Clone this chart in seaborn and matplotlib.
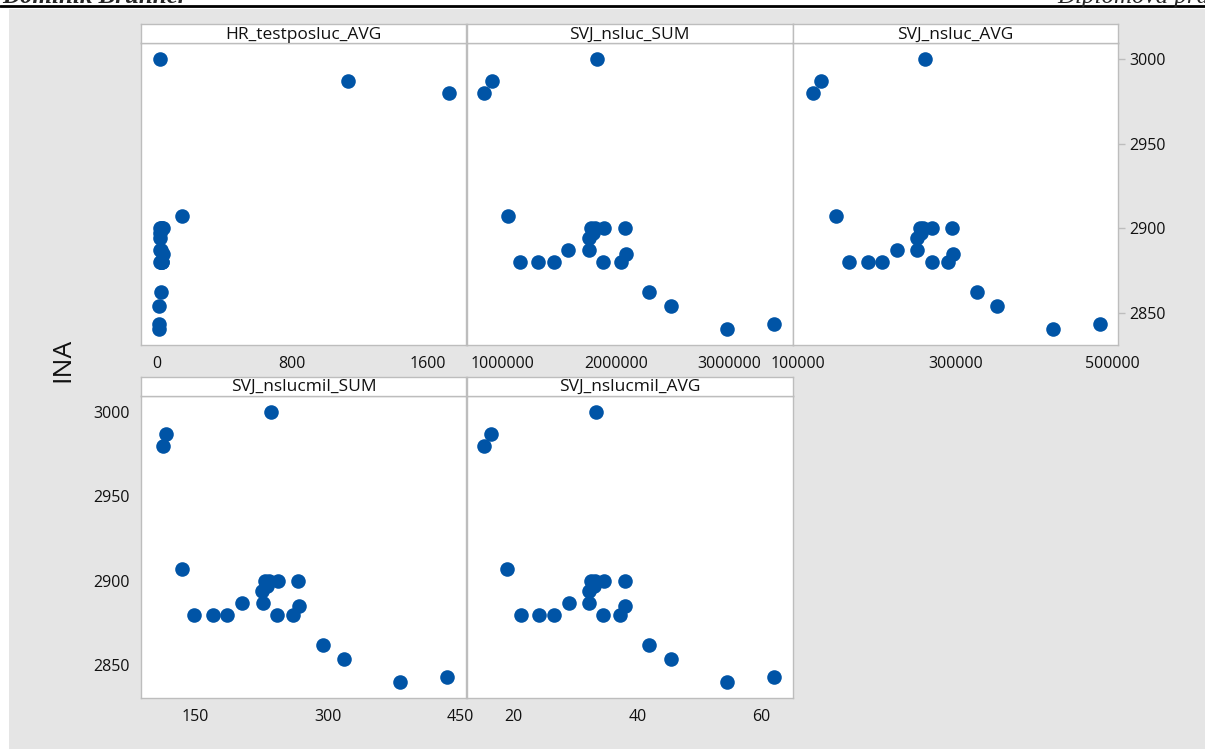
import numpy as np
import pandas as pd
import matplotlib
matplotlib.use("Agg")
from matplotlib import pyplot as plt
from matplotlib.patches import Rectangle
import seaborn as sns

ina = [3000, 2987, 2980, 2907, 2900, 2900, 2900, 2900, 2897, 2894, 2887,
       2887, 2885, 2880, 2880, 2880, 2880, 2880, 2862, 2854, 2840, 2843]
hr_testposluc_avg = [20, 1128, 1725, 152, 25, 30, 35, 20, 22, 18, 28,
                     22, 35, 25, 30, 20, 28, 32, 24, 14, 12, 12]
svj_nsluc_sum = [1832000, 903000, 837000, 1044000, 1785000, 1817000, 1896000,
                 2082000, 1800000, 1767000, 1581000, 1767000, 2088000, 1153000,
                 1315000, 1457000, 1890000, 2044000, 2298000, 2487000, 2988000,
                 3401000]
svj_nsluc_avg = [261400, 128900, 119100, 148400, 255000, 259200, 269900,
                 296200, 257000, 250800, 225300, 250800, 297500, 165000,
                 188800, 207000, 269900, 290300, 327200, 353500, 424800,
                 484300]
svj_nslucmil_sum = [235, 116, 113, 134, 229, 233, 243, 266, 231, 225, 203,
                    226, 267, 148, 170, 186, 242, 260, 294, 318, 382, 435]
svj_nslucmil_avg = [33.4, 16.5, 15.3, 19.1, 32.6, 33.2, 34.7, 38.0, 33.0,
                    32.3, 29.0, 32.3, 38.1, 21.2, 24.2, 26.6, 34.5, 37.3,
                    41.9, 45.4, 54.5, 62.0]

panel_titles = ["HR_testposluc_AVG", "SVJ_nsluc_SUM", "SVJ_nsluc_AVG",
                "SVJ_nslucmil_SUM", "SVJ_nslucmil_AVG"]
x_ticks = [[0, 800, 1600],
           [1000000, 2000000, 3000000],
           [100000, 300000, 500000],
           [150, 300, 450],
           [20, 40, 60]]
y_ticks = [2850, 2900, 2950, 3000]

df = pd.DataFrame({
    "INA": ina,
    "HR_testposluc_AVG": hr_testposluc_avg,
    "SVJ_nsluc_SUM": svj_nsluc_sum,
    "SVJ_nsluc_AVG": svj_nsluc_avg,
    "SVJ_nslucmil_SUM": svj_nslucmil_sum,
    "SVJ_nslucmil_AVG": svj_nslucmil_avg,
})

sns.set_theme(style="white")
plt.rcParams["font.family"] = ["Open Sans", "DejaVu Sans"]

W, H = 1205, 749
fig = plt.figure(figsize=(W / 100, H / 100), dpi=100)
fig.patch.set_facecolor("white")

# gray page background and the document header (cut off at the top, as in the scan)
fig.add_artist(Rectangle((9 / W, 0), 1, (H - 9) / H, transform=fig.transFigure,
                         facecolor="#e5e5e5", edgecolor="none", zorder=-10))
fig.add_artist(plt.Line2D([0, 1], [(H - 5.5) / H] * 2, transform=fig.transFigure,
                          color="black", lw=2))
fig.text(2 / W, (H - 3) / H, "Dominik Brunner", fontsize=18, family="Liberation Serif",
         weight="bold", style="italic", va="baseline")
fig.text(1057 / W, (H - 3) / H, "Diplomová práce", fontsize=18, family="Liberation Serif",
         style="italic", va="baseline")

blue = "#0054a6"
edge = "#bdbdbd"
xlims = [(-93, 1830), (681000, 3563000), (92900, 507600), (88, 457), (12.5, 65)]
# pixel boxes: (left, right, strip_top, strip_bottom, plot_bottom)
boxes = [(141, 466.5, 24, 43.3, 345), (466.5, 792.5, 24, 43.3, 345),
         (792.5, 1118.3, 24, 43.3, 345),
         (141, 466.5, 376.7, 395.7, 697.7), (466.5, 792.5, 376.7, 395.7, 697.7)]

for i, title in enumerate(panel_titles):
    l, r, st, sb, pb = boxes[i]
    ax = fig.add_axes([l / W, (H - pb) / H, (r - l) / W, (pb - sb) / H])
    sns.scatterplot(data=df, x=title, y="INA", ax=ax, color=blue, s=110,
                    linewidth=0, legend=False, zorder=3)
    ax.set_xlim(*xlims[i])
    ax.set_ylim(2830.8, 3009.6)
    ax.set_xticks(x_ticks[i])
    ax.set_xticklabels([str(t) for t in x_ticks[i]])
    ax.set_xlabel("")
    ax.set_ylabel("")
    ax.set_facecolor("white")
    for sp in ax.spines.values():
        sp.set_color(edge)
        sp.set_linewidth(1)
    ax.tick_params(axis="both", direction="out", length=5, width=1, color=edge,
                   labelsize=11.5, labelcolor="#111111", pad=3)
    if i == 2:
        ax.yaxis.tick_right()
        ax.set_yticks(y_ticks)
        ax.tick_params(axis="y", left=False, right=True, labelright=True, labelleft=False)
    elif i == 3:
        ax.set_yticks(y_ticks)
    else:
        ax.set_yticks([])

    sax = fig.add_axes([l / W, (H - sb) / H, (r - l) / W, (sb - st) / H])
    sax.set_facecolor("white")
    sax.set_xticks([])
    sax.set_yticks([])
    for sp in sax.spines.values():
        sp.set_color(edge)
        sp.set_linewidth(1)
    sax.text(0.5, 0.45, title, ha="center", va="center", fontsize=12.5,
             color="#111111", transform=sax.transAxes)

fig.text(63 / W, (H - 360) / H, "INA", rotation=90, ha="center", va="center",
         fontsize=19, color="#111111")

fig.savefig("out.png", dpi=100)
